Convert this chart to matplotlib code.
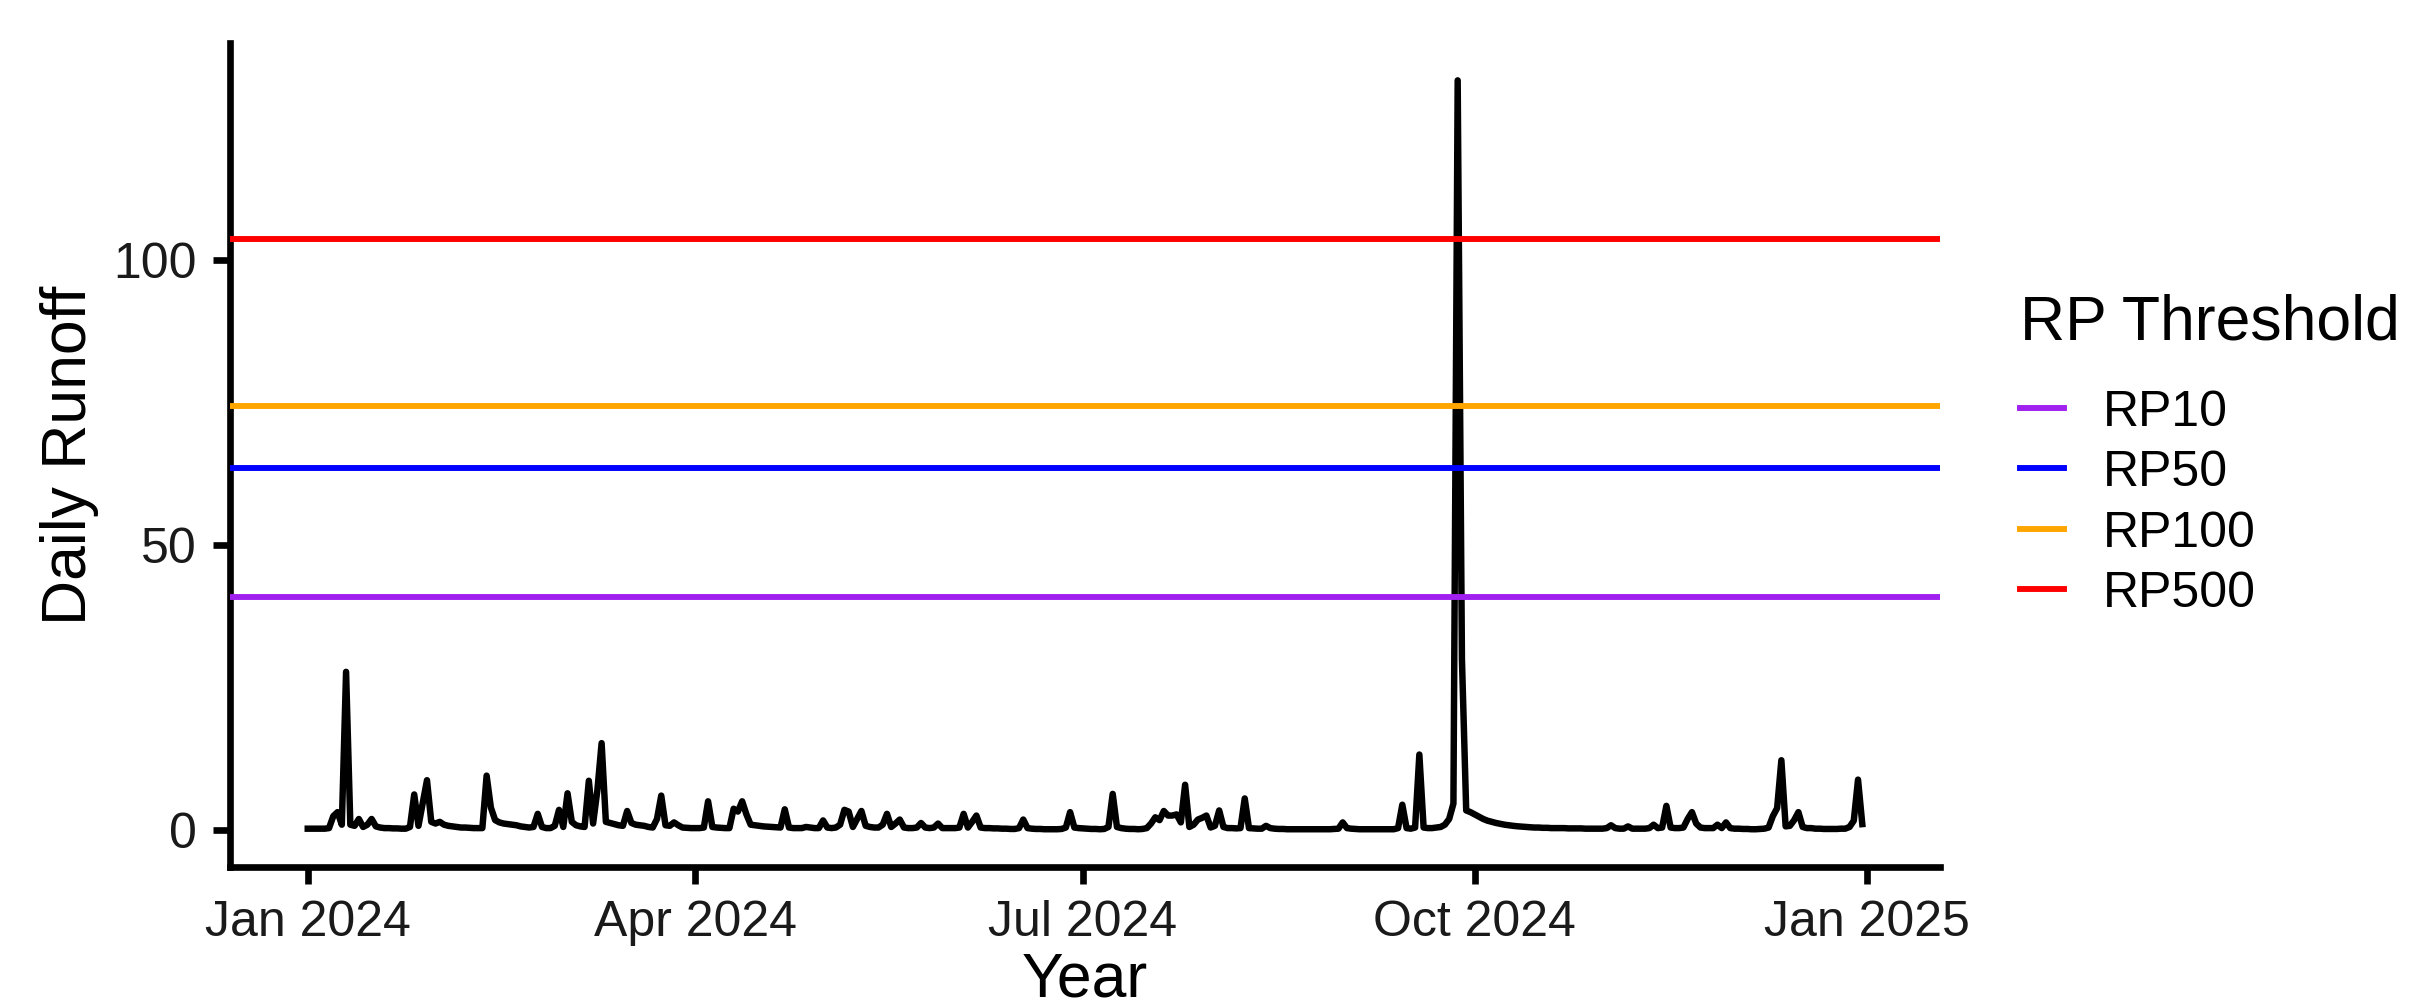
import matplotlib
matplotlib.use("Agg")
import matplotlib.pyplot as plt
import matplotlib.dates as mdates
from matplotlib.lines import Line2D
import pandas as pd

plt.rcParams['font.family'] = ['Liberation Sans', 'DejaVu Sans']

# Daily runoff, 2024, one list per month
jan = [0.3, 0.3, 0.3, 0.3, 0.3, 0.4, 2.5, 3.2, 1.0, 27.8, 1.0, 0.8, 2.0, 0.6, 1.0, 2.0,
       0.7, 0.5, 0.4, 0.4, 0.35, 0.35, 0.3, 0.3, 0.6, 6.3, 0.8, 4.8, 8.8, 1.5, 1.2]
feb = [1.5, 1.0, 0.8, 0.7, 0.6, 0.5, 0.5, 0.45, 0.4, 0.4, 0.4, 9.6, 4.0, 1.8, 1.4, 1.2,
       1.1, 1.0, 0.9, 0.7, 0.6, 0.5, 0.6, 2.9, 0.6, 0.4, 0.4, 0.8, 3.6]
mar = [0.6, 6.5, 1.5, 0.9, 0.7, 0.6, 8.7, 1.2, 7.0, 15.3, 1.5, 1.3, 1.1, 0.9, 0.8, 3.4,
       1.3, 1.0, 0.9, 0.8, 0.6, 0.5, 2.0, 6.1, 0.9, 0.8, 1.4, 0.9, 0.5, 0.45, 0.4]
apr = [0.4, 0.4, 0.5, 5.1, 0.6, 0.5, 0.45, 0.4, 0.4, 3.8, 3.3, 5.1, 2.8, 1.0, 0.9, 0.8,
       0.7, 0.65, 0.6, 0.55, 0.5, 3.7, 0.5, 0.4, 0.4, 0.4, 0.6, 0.5, 0.4, 0.4]
may = [1.75, 0.5, 0.4, 0.5, 1.0, 3.6, 3.3, 0.6, 2.0, 3.4, 0.8, 0.6, 0.5, 0.5, 1.0, 2.9,
       0.6, 1.2, 1.9, 0.5, 0.4, 0.4, 0.5, 1.3, 0.5, 0.4, 0.5, 1.2, 0.4, 0.4, 0.4]
jun = [0.4, 0.5, 2.9, 0.5, 1.5, 2.6, 0.5, 0.4, 0.4, 0.35, 0.35, 0.3, 0.3, 0.25, 0.25,
       0.4, 1.9, 0.4, 0.3, 0.25, 0.25, 0.2, 0.2, 0.2, 0.2, 0.25, 0.5, 3.2, 0.5, 0.4]
jul = [0.35, 0.3, 0.25, 0.25, 0.2, 0.25, 0.6, 6.4, 0.6, 0.4, 0.3, 0.25, 0.25, 0.2, 0.25,
       0.4, 1.2, 2.3, 1.8, 3.4, 2.6, 2.6, 2.8, 1.4, 8.0, 0.6, 1.0, 1.9, 2.2, 2.6, 0.5]
aug = [0.8, 3.5, 0.6, 0.4, 0.4, 0.35, 0.4, 5.6, 0.4, 0.35, 0.3, 0.3, 0.8, 0.4, 0.3,
       0.25, 0.25, 0.2, 0.2, 0.2, 0.2, 0.2, 0.2, 0.2, 0.2, 0.2, 0.2, 0.2, 0.25, 0.3, 1.4]
sep = [0.4, 0.3, 0.25, 0.2, 0.2, 0.2, 0.2, 0.2, 0.2, 0.2, 0.2, 0.2, 0.4, 4.5, 0.4, 0.3,
       0.5, 13.3, 0.5, 0.4, 0.4, 0.5, 0.6, 1.0, 2.0, 4.7, 131.5, 30.0, 3.5, 3.2]
oct_ = [2.8, 2.4, 2.0, 1.7, 1.5, 1.3, 1.15, 1.0, 0.9, 0.8, 0.72, 0.66, 0.6, 0.55, 0.5,
        0.5, 0.45, 0.45, 0.4, 0.4, 0.4, 0.4, 0.35, 0.35, 0.35, 0.35, 0.3, 0.3, 0.3, 0.3, 0.3]
nov = [0.4, 0.9, 0.4, 0.3, 0.3, 0.7, 0.3, 0.3, 0.3, 0.3, 0.4, 1.0, 0.4, 0.5, 4.3, 0.5,
       0.4, 0.4, 0.5, 2.0, 3.2, 1.2, 0.5, 0.4, 0.4, 0.4, 1.0, 0.4, 1.4, 0.4]
dec = [0.3, 0.3, 0.25, 0.25, 0.2, 0.2, 0.25, 0.3, 0.5, 2.5, 3.9, 12.3, 0.7, 0.8, 1.8, 3.2,
       0.6, 0.4, 0.4, 0.3, 0.3, 0.25, 0.25, 0.25, 0.25, 0.3, 0.3, 0.6, 1.7, 8.9, 1.1]

threshold_labels = ["RP10", "RP50", "RP100", "RP500"]
threshold_values = [41.0, 63.6, 74.4, 103.6]
threshold_colors = ["#A020F0", "#0000FF", "#FFA500", "#FF0000"]

tick_dates = ["2024-01-01", "2024-04-01", "2024-07-01", "2024-10-01", "2025-01-01"]
y_ticks = [0, 50, 100]

runoff = jan + feb + mar + apr + may + jun + jul + aug + sep + oct_ + nov + dec
dates = pd.date_range("2024-01-01", periods=len(runoff), freq="D")

fig = plt.figure(figsize=(8.04, 3.357), dpi=300)
ax = fig.add_axes([0.09536, 0.13932, 0.70896, 0.81797])

ax.plot(dates, runoff, color="black", lw=1.55, solid_joinstyle="round", zorder=2)
for lab, val, col in zip(threshold_labels, threshold_values, threshold_colors):
    ax.axhline(val, color=col, lw=1.42, zorder=3)

# ggplot-like 5% expansion
x0 = mdates.date2num(dates[0]); x1 = mdates.date2num(dates[-1])
dx = (x1 - x0) * 0.05
ax.set_xlim(x0 - dx, x1 + dx)
allv = runoff + threshold_values
lo, hi = min(allv), max(allv)
dy = (hi - lo) * 0.05
ax.set_ylim(lo - dy, hi + dy)

ax.set_xticks([mdates.date2num(pd.Timestamp(d)) for d in tick_dates])
ax.xaxis.set_major_formatter(mdates.DateFormatter("%b %Y"))
ax.set_yticks(y_ticks)

for s in ["top", "right"]:
    ax.spines[s].set_visible(False)
for s in ["left", "bottom"]:
    ax.spines[s].set_linewidth(1.6)
ax.tick_params(axis="both", length=4, width=1.6, pad=4, labelsize=12,
               colors="black", labelcolor="#1a1a1a")

ax.set_xlabel("Year", fontsize=15, labelpad=1)
ax.set_ylabel("Daily Runoff", fontsize=15, labelpad=3.5)

handles = [Line2D([], [], color=c, lw=1.42) for c in threshold_colors]
leg = fig.legend(handles, threshold_labels, title="RP Threshold",
                 loc="upper left", bbox_to_anchor=(2020 / 2412, 1 - 293 / 1007),
                 frameon=False, fontsize=12, title_fontsize=15,
                 handlelength=0.88, handletextpad=0.78, labelspacing=0.29,
                 borderpad=0, borderaxespad=0, alignment="left")
leg._legend_box.sep = 9.0

fig.savefig("out.png", dpi=300, facecolor="white")
